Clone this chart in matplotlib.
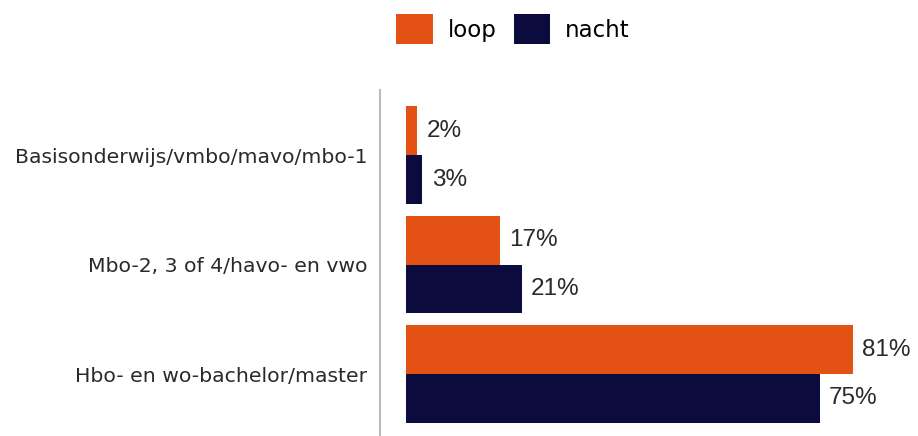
import matplotlib.pyplot as plt
import numpy as np

# data
categories = ['Basisonderwijs/vmbo/mavo/mbo-1',
              'Mbo-2, 3 of 4/havo- en vwo',
              'Hbo- en wo-bachelor/master']
loop = [2, 17, 81]
nacht = [3, 21, 75]
series = ['loop', 'nacht']
colors = ['#E35214', '#0C0B3D']

fig = plt.figure(figsize=(9.18, 4.36), dpi=100)
ax = fig.add_axes([380 / 918, 1 / 436, 538 / 918, 345 / 436])

y = np.arange(len(categories))
h = 0.447
b1 = ax.barh(y - h / 2, loop, height=h, color=colors[0], label=series[0])
b2 = ax.barh(y + h / 2, nacht, height=h, color=colors[1], label=series[1])

# waardelabels naast de balken
for bars, vals in ((b1, loop), (b2, nacht)):
    for r, v in zip(bars, vals):
        ax.text(r.get_width() + 1.7, r.get_y() + r.get_height() / 2, f'{v}%',
                va='center', ha='left', fontsize=17.5, color='#2a2a2a',
                family='Liberation Sans')

ax.set_xlim(-4.7, 92.8)
ax.set_ylim(2.557, -0.594)
ax.set_yticks(y)
ax.set_yticklabels(categories, fontsize=14.7, color='#2a2a2a')
ax.tick_params(axis='y', length=0, pad=9)
ax.set_xticks([])
for s in ['top', 'right', 'bottom']:
    ax.spines[s].set_visible(False)
ax.spines['left'].set_color('#BBBBBB')
ax.spines['left'].set_linewidth(1.5)

fig.legend(handles=[b1, b2], labels=series, loc='center',
           bbox_to_anchor=(513 / 918, 1 - 29 / 436), ncol=2, frameon=False,
           fontsize=16.5, handlelength=1.6, handleheight=1.6,
           columnspacing=0.75, handletextpad=0.65, borderpad=0)

fig.savefig('out.png', dpi=100)
